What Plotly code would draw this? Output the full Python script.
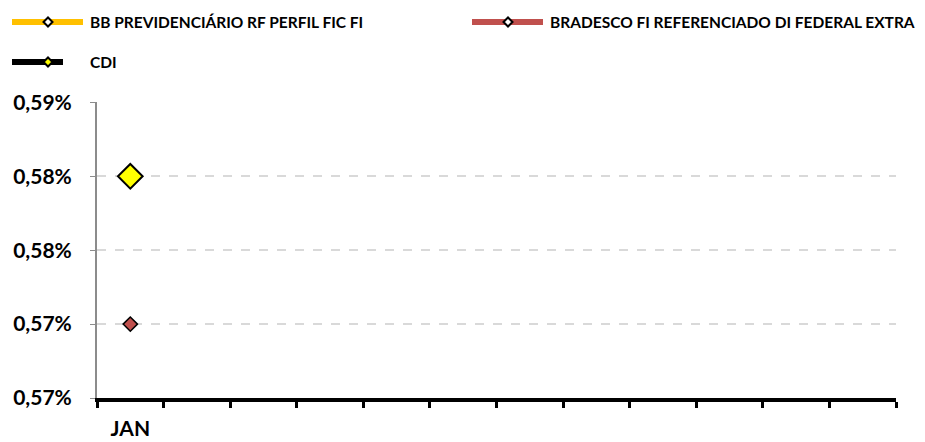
import plotly.graph_objects as go

months = ["JAN", "FEV", "MAR", "ABR", "MAI", "JUN", "JUL", "AGO", "SET", "OUT", "NOV", "DEZ"]
month_labels = ["JAN"] + [""] * 11
bb_prev = [None] * 12
bradesco = [0.570] + [None] * 11
cdi = [0.580] + [None] * 11
y_ticks = [0.565, 0.570, 0.575, 0.580, 0.585]
y_tick_labels = ["0,57%", "0,57%", "0,58%", "0,58%", "0,59%"]

series_names = ["BB PREVIDENCIÁRIO RF PERFIL FIC FI",
                "BRADESCO FI REFERENCIADO DI FEDERAL EXTRA",
                "CDI"]
line_colors = ["#FFC000", "#C0504D", "#000000"]
legend_marker_fill = ["#FFFFFF", "#FFFFFF", "#FFFF00"]

FONT = "Lato"
# page has an 8px body margin, so the figure is sized to fit the 925x442 window
W, H = 917, 434
ML, MR, MT, MB = 89, 29, 94, 44
PW, PH = W - ML - MR, H - MT - MB


def px2paper(px, py):
    return (px - ML) / PW, (H - MB - py) / PH


fig = go.Figure()
fig.add_trace(go.Scatter(
    x=months, y=bb_prev, name=series_names[0], showlegend=False,
    mode="lines+markers",
    line=dict(color=line_colors[0], width=5),
    marker=dict(symbol="diamond", size=7, color="#FFFFFF", line=dict(color="#000000", width=2)),
))
fig.add_trace(go.Scatter(
    x=months, y=bradesco, name=series_names[1], showlegend=False,
    mode="lines+markers",
    line=dict(color=line_colors[1], width=5),
    marker=dict(symbol="diamond", size=11, color="#C0504D", line=dict(color="#000000", width=1.5)),
))
fig.add_trace(go.Scatter(
    x=months, y=cdi, name=series_names[2], showlegend=False,
    mode="lines+markers",
    line=dict(color=line_colors[2], width=5),
    marker=dict(symbol="diamond", size=19, color="#FFFF00", line=dict(color="#000000", width=2)),
))

# legend: text entries in separate legend boxes, keys drawn as long lines + diamonds
# (text_x, center_y, key_line_x0, key_line_x1, marker_x) in figure pixels
legend_layout = [(82, 14, 4, 75, 40), (542, 14, 464, 535, 500), (82, 54, 4, 55, 40)]
for i, (name, col, fill) in enumerate(zip(series_names, line_colors, legend_marker_fill)):
    lg = f"legend{i+2}"
    tx, ty, lx0, lx1, mx = legend_layout[i]
    fig.add_trace(go.Scatter(
        x=[None], y=[None], name=name, legend=lg, showlegend=True,
        mode="lines", line=dict(color="rgba(0,0,0,0)", width=1),
    ))
    fig.update_layout({lg: dict(
        x=(tx - 40) / W, y=1 - ty / H, xref="container", yref="container",
        xanchor="left", yanchor="middle",
        font=dict(family=FONT, size=15.5, color="#000000", weight="bold"),
        bgcolor="rgba(0,0,0,0)", borderwidth=0,
    )})
    x0, yp = px2paper(lx0, ty)
    x1, _ = px2paper(lx1, ty)
    fig.add_shape(type="line", xref="paper", yref="paper", x0=x0, x1=x1, y0=yp, y1=yp,
                  line=dict(color=col, width=6))
    cx, cy = px2paper(mx, ty)
    dx, dy = 4.5 / PW, 4.5 / PH
    fig.add_shape(type="path", xref="paper", yref="paper",
                  path=f"M {cx - dx} {cy} L {cx} {cy + dy} L {cx + dx} {cy} L {cx} {cy - dy} Z",
                  fillcolor=fill, line=dict(color="#000000", width=2))

fig.update_layout(
    width=W, height=H,
    margin=dict(l=ML, r=MR, t=MT, b=MB, autoexpand=False),
    paper_bgcolor="white", plot_bgcolor="white",
    font=dict(family=FONT, color="#000000"),
    showlegend=True,
)

fig.update_xaxes(
    type="category", categoryorder="array", categoryarray=months,
    range=[-0.5, 11.5], automargin=False,
    tickmode="array", tickvals=months, ticktext=month_labels,
    tickson="boundaries",
    showline=True, linecolor="#000000", linewidth=4,
    ticks="outside", ticklen=6, tickwidth=3, tickcolor="#000000",
    showgrid=False, zeroline=False,
    tickfont=dict(family=FONT, size=21, color="#000000", weight="bold"),
    ticklabelstandoff=9,
)
fig.update_yaxes(
    range=[0.565, 0.58503], automargin=False,
    tickmode="array", tickvals=y_ticks, ticktext=y_tick_labels,
    showline=True, linecolor="#8C8C8C", linewidth=2,
    ticks="outside", ticklen=5, tickwidth=1, tickcolor="#8C8C8C",
    showgrid=True, gridcolor="#D9D9D9", gridwidth=1.5, griddash="dash",
    zeroline=False,
    tickfont=dict(family=FONT, size=21, color="#000000", weight="bold"),
    ticklabelstandoff=14,
)

fig.write_html("out.html")
